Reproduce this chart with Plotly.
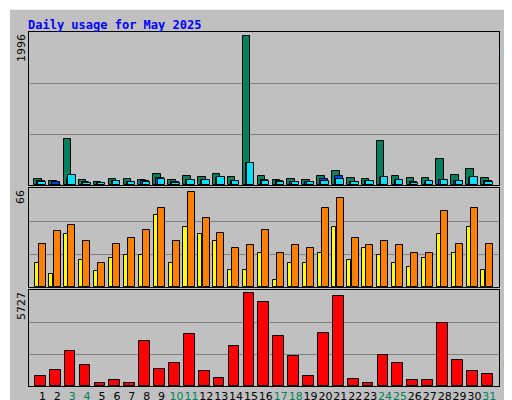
import plotly.graph_objects as go

days = list(range(1, 32))
weekend = [3, 4, 10, 11, 17, 18, 24, 25, 31]
hits = [86, 59, 619, 72, 45, 86, 86, 72, 154, 72, 126, 113, 154, 113, 1996, 126, 72, 86, 72, 126, 194, 99, 86, 587, 126, 99, 99, 343, 140, 221, 99]
files = [59, 45, 86, 40, 30, 50, 45, 50, 90, 45, 70, 70, 90, 60, 300, 70, 60, 45, 45, 75, 126, 45, 55, 90, 70, 45, 45, 70, 60, 90, 50]
pages = [45, 5, 140, 30, 25, 55, 45, 45, 86, 30, 72, 72, 113, 55, 289, 60, 45, 45, 45, 55, 86, 45, 55, 113, 72, 30, 55, 72, 55, 113, 45]
sites = [17, 9, 37, 19, 11, 20, 22, 22, 50, 17, 42, 37, 32, 12, 12, 24, 5, 17, 17, 24, 42, 19, 27, 22, 17, 14, 20, 37, 24, 42, 12]
visits = [30, 39, 43, 32, 17, 30, 34, 40, 55, 32, 66, 48, 38, 27, 29, 40, 24, 29, 27, 55, 62, 34, 29, 32, 29, 24, 24, 53, 30, 55, 30]
kbytes = [648, 961, 2153, 1275, 209, 397, 209, 2780, 1024, 1400, 3219, 899, 522, 2466, 5727, 5225, 3093, 1839, 648, 3281, 5539, 460, 209, 1902, 1400, 397, 397, 3908, 1588, 899, 773]

BG = "#C0C0C0"
FONT = "DejaVu Sans Mono"
fig = go.Figure()
line = dict(color="black", width=1)

def bar(y, color, off, w, xa, ya):
    fig.add_trace(go.Bar(x=days, y=y, marker=dict(color=color, line=line), offset=off, width=w,
                         xaxis=xa, yaxis=ya, showlegend=False, hoverinfo="skip"))

bar(hits, "#00805C", -0.55, 0.5, "x", "y")
bar(files, "#0040FF", -0.35, 0.5, "x", "y")
bar(pages, "#00E0FF", -0.27, 0.5, "x", "y")
bar(sites, "#FFFF00", -0.53, 0.27, "x2", "y2")
bar(visits, "#FF8000", -0.25, 0.47, "x2", "y2")
bar(kbytes, "#FF0000", -0.5, 0.72, "x3", "y3")

xr = [0.1, 31.65]
dom = [21/512, 491/512]
ticktext = [f'<span style="color:{"#00805C" if d in weekend else "black"}">{d}</span>' for d in days]
R = [2055, 69.1, 5936]
ydoms = [[1-177/400, 1-24/400], [1-279/400, 1-180/400], [1-378/400, 1-282/400]]
for i in range(3):
    s = "" if i == 0 else str(i+1)
    fig.layout["xaxis"+s] = dict(domain=dom, range=xr, anchor="y"+s, showgrid=False, zeroline=False,
                                 showline=True, mirror=True, linecolor="black", tickangle=0,
                                 tickvals=days if i == 2 else [], ticktext=ticktext if i == 2 else None,
                                 ticks="", tickfont=dict(family="DejaVu Sans", size=11, color="black"))
    fig.layout["yaxis"+s] = dict(domain=ydoms[i], range=[0, R[i]], anchor="x"+s, showline=True, mirror=True,
                                 linecolor="black", tickvals=[R[i]/3, 2*R[i]/3], showticklabels=False,
                                 gridcolor="#808080", zeroline=False, ticks="")

ann = []
labels = ["1996", "66", "5727"]
for i, l in enumerate(labels):
    ann.append(dict(text=l, x=13/512, y=ydoms[i][1], xref="paper", yref="paper", xanchor="center",
                    yanchor="top", textangle=-90, showarrow=False, font=dict(family="DejaVu Sans", size=11, color="black")))
right = ['<span style="color:#00E0FF">Pages</span> / <span style="color:#0040FF">Files</span> / <span style="color:#00805C">Hits</span>',
         '<span style="color:#FF8000">Sites</span> / <span style="color:#FFFF00">Visits</span>',
         '<span style="color:#FF0000">KB F</span>']
ry = [1-25/400, 1-180/400, 1-360/400]
for i, t in enumerate(right):
    ann.append(dict(text=t, x=500/512, y=ry[i], xref="paper", yref="paper", xanchor="center",
                    yanchor="top" if i < 2 else "middle", textangle=90, showarrow=False,
                    font=dict(family=FONT, size=11, color="black")))
ann.append(dict(text="<b>Daily usage for May 2025</b>", x=18/512, y=1-8/400, xref="paper", yref="paper",
                xanchor="left", yanchor="top", showarrow=False, font=dict(family=FONT, size=12, color="#0000FF")))

shapes = [
    dict(type="line", xref="paper", yref="paper", x0=0, x1=1, y0=0.998, y1=0.998, line=dict(color="white", width=2)),
    dict(type="line", xref="paper", yref="paper", x0=0.002, x1=0.002, y0=0, y1=1, line=dict(color="white", width=2)),
    dict(type="line", xref="paper", yref="paper", x0=0, x1=1, y0=0.004, y1=0.004, line=dict(color="#808080", width=3)),
    dict(type="line", xref="paper", yref="paper", x0=0.996, x1=0.996, y0=0, y1=1, line=dict(color="#808080", width=3)),
]

fig.update_layout(width=512, height=400, margin=dict(l=0, r=0, t=0, b=0), paper_bgcolor=BG, plot_bgcolor=BG,
                  barmode="overlay", bargap=0, annotations=ann, shapes=shapes, font=dict(family=FONT))
fig.write_html("out.html", config={"displayModeBar": False})
